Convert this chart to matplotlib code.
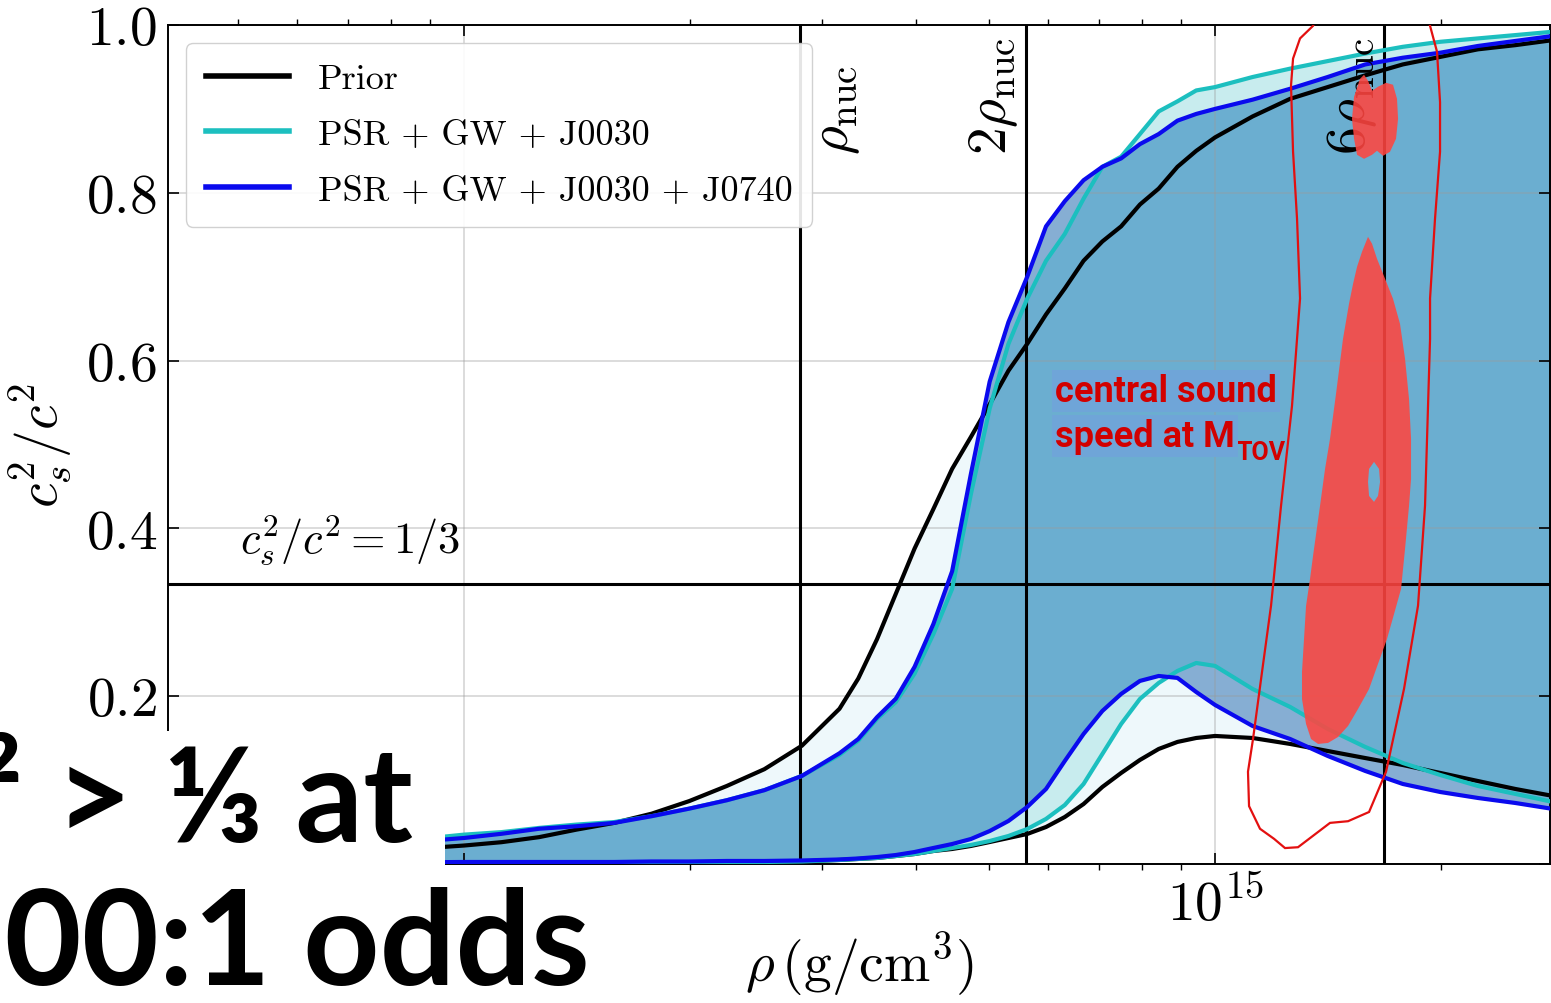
import numpy as np
import matplotlib
matplotlib.use('Agg')
import matplotlib.pyplot as plt
from matplotlib.patches import Rectangle, PathPatch, Polygon
from matplotlib.path import Path

plt.rcParams['font.family'] = 'cmr10'
plt.rcParams['mathtext.fontset'] = 'cm'
plt.rcParams['axes.formatter.use_mathtext'] = True
plt.rcParams['axes.unicode_minus'] = False

W, H = 1551, 1004
RHO_NUC = 2.8e14

# density grid (log10 g/cm^3) and 90% bounds of c_s^2/c^2
log_rho = [13.90, 14.00, 14.05, 14.10, 14.15, 14.20, 14.25, 14.30, 14.35, 14.40,
           14.45, 14.50, 14.525, 14.55, 14.575, 14.60, 14.625, 14.65, 14.675, 14.70,
           14.725, 14.75, 14.775, 14.80, 14.825, 14.85, 14.875, 14.90, 14.925, 14.95,
           14.975, 15.00, 15.05, 15.10, 15.15, 15.20, 15.25, 15.30, 15.35, 15.40, 15.45]

prior_hi = [0.016, 0.022, 0.026, 0.032, 0.041, 0.049, 0.060, 0.075, 0.093, 0.113,
            0.141, 0.185, 0.221, 0.268, 0.322, 0.376, 0.423, 0.471, 0.509, 0.548,
            0.588, 0.620, 0.655, 0.686, 0.719, 0.742, 0.760, 0.786, 0.805, 0.831,
            0.850, 0.866, 0.891, 0.912, 0.926, 0.940, 0.953, 0.962, 0.971, 0.976, 0.982]
prior_lo = [0.0006, 0.0006, 0.0006, 0.0006, 0.0006, 0.0012, 0.0012, 0.0012, 0.0018, 0.0024,
            0.0030, 0.0048, 0.0060, 0.0072, 0.0095, 0.0119, 0.0155, 0.0179, 0.0215, 0.0262,
            0.0310, 0.0358, 0.0441, 0.0560, 0.0715, 0.0918, 0.1085, 0.1240, 0.1371, 0.1455,
            0.1502, 0.1526, 0.1502, 0.1431, 0.1347, 0.1263, 0.1180, 0.1085, 0.0989, 0.0894, 0.0811]

j0030_hi = [0.026, 0.035, 0.038, 0.043, 0.047, 0.050, 0.057, 0.066, 0.076, 0.088,
            0.105, 0.130, 0.147, 0.173, 0.193, 0.227, 0.274, 0.328, 0.441, 0.543,
            0.620, 0.674, 0.719, 0.751, 0.793, 0.831, 0.843, 0.870, 0.897, 0.909,
            0.922, 0.926, 0.938, 0.948, 0.957, 0.966, 0.974, 0.980, 0.984, 0.988, 0.992]
j0030_lo = [0.0012, 0.0012, 0.0012, 0.0012, 0.0012, 0.0012, 0.0012, 0.0018, 0.0018, 0.0024,
            0.0030, 0.0048, 0.0060, 0.0072, 0.0095, 0.0119, 0.0155, 0.0191, 0.0227, 0.0274,
            0.0334, 0.0417, 0.0537, 0.0703, 0.0954, 0.1311, 0.1669, 0.1967, 0.2158, 0.2301,
            0.2396, 0.2361, 0.2086, 0.1872, 0.1610, 0.1395, 0.1204, 0.1061, 0.0930, 0.0835, 0.0739]

j0740_hi = [0.024, 0.031, 0.036, 0.042, 0.045, 0.049, 0.057, 0.066, 0.076, 0.088,
            0.105, 0.132, 0.149, 0.175, 0.197, 0.235, 0.286, 0.349, 0.465, 0.575,
            0.646, 0.700, 0.760, 0.790, 0.815, 0.831, 0.841, 0.858, 0.870, 0.886,
            0.894, 0.900, 0.911, 0.924, 0.938, 0.953, 0.961, 0.967, 0.975, 0.981, 0.987]
j0740_lo = [0.0018, 0.0024, 0.0024, 0.0024, 0.0024, 0.0024, 0.0030, 0.0030, 0.0036, 0.0036,
            0.0042, 0.0054, 0.0066, 0.0083, 0.0107, 0.0143, 0.0191, 0.0238, 0.0298, 0.0393,
            0.0513, 0.0680, 0.0894, 0.1228, 0.1550, 0.1824, 0.2027, 0.2182, 0.2241, 0.2218,
            0.2050, 0.1896, 0.1645, 0.1490, 0.1288, 0.1109, 0.0954, 0.0858, 0.0787, 0.0727, 0.0656]

# central sound speed at M_TOV: 90% contour, and filled 50% regions
tov_contour_logrho = [15.1425, 15.1305, 15.1132, 15.1039, 15.1012, 15.1039, 15.1092, 15.1132,
                      15.1092, 15.1025, 15.0879, 15.0746, 15.0626, 15.0506, 15.0439, 15.0453,
                      15.0599, 15.0786, 15.0932, 15.1105, 15.1252, 15.1531, 15.1771, 15.2051,
                      15.2277, 15.2517, 15.2703, 15.2796, 15.2863, 15.2863, 15.2929, 15.2996,
                      15.2996, 15.2956, 15.2863, 15.2756, 15.2091]
tov_contour_cs2 = [1.025, 0.999, 0.984, 0.960, 0.928, 0.849, 0.769, 0.674,
                   0.626, 0.546, 0.427, 0.308, 0.229, 0.149, 0.110, 0.069,
                   0.042, 0.030, 0.019, 0.020, 0.030, 0.049, 0.051, 0.062,
                   0.110, 0.209, 0.308, 0.427, 0.626, 0.674, 0.769, 0.849,
                   0.908, 0.968, 0.999, 1.025, 1.049]

tov_main_logrho = [15.1957, 15.2037, 15.2091, 15.2157, 15.2264, 15.2370, 15.2463, 15.2530,
                   15.2583, 15.2610, 15.2610, 15.2583, 15.2530, 15.2477, 15.2384, 15.2290,
                   15.2170, 15.2051, 15.1904, 15.1771, 15.1638, 15.1505, 15.1372, 15.1278,
                   15.1212, 15.1158, 15.1158, 15.1185, 15.1212, 15.1265, 15.1305, 15.1398,
                   15.1465, 15.1531, 15.1611, 15.1704, 15.1784, 15.1838, 15.1891]
tov_main_cs2 = [0.7297, 0.7475, 0.7392, 0.7213, 0.6975, 0.6736, 0.6438, 0.6021,
                0.5544, 0.5067, 0.4590, 0.4268, 0.3756, 0.3279, 0.2981, 0.2683,
                0.2385, 0.2086, 0.1848, 0.1645, 0.1514, 0.1443, 0.1431, 0.1490,
                0.1669, 0.1967, 0.2289, 0.2683, 0.3076, 0.3398, 0.3672, 0.4268,
                0.4709, 0.5067, 0.5604, 0.6259, 0.6677, 0.6915, 0.7118]
tov_hole_logrho = [15.2117, 15.2184, 15.2197, 15.2170, 15.2117, 15.2051, 15.2037, 15.2051]
tov_hole_cs2 = [0.4793, 0.4709, 0.4554, 0.4387, 0.4316, 0.4387, 0.4554, 0.4709]

tov_top_logrho = [15.1931, 15.1984, 15.2037, 15.2091, 15.2170, 15.2277, 15.2370, 15.2423,
                  15.2437, 15.2410, 15.2330, 15.2237, 15.2157, 15.2091, 15.1984, 15.1891,
                  15.1851, 15.1824, 15.1851]
tov_top_cs2 = [0.9359, 0.9407, 0.9335, 0.9216, 0.9264, 0.9311, 0.9288, 0.9121,
               0.8882, 0.8644, 0.8489, 0.8441, 0.8501, 0.8453, 0.8405, 0.8453,
               0.8644, 0.8882, 0.9145]

rho = 10 ** np.array(log_rho)
p_lo, p_hi = np.array(prior_lo), np.array(prior_hi)
a_lo, a_hi = np.array(j0030_lo), np.array(j0030_hi)
b_lo, b_hi = np.array(j0740_lo), np.array(j0740_hi)

fig = plt.figure(figsize=(W / 100, H / 100), dpi=100)
ax = fig.add_axes([168 / W, (H - 865) / H, (1550 - 168) / W, (865 - 26) / H])
ax.set_xscale('log')

# bands: prior, each posterior alone, then where both posteriors overlap
ax.fill_between(rho, p_lo, p_hi, color='#eef8fb', lw=0, zorder=1)
ax.fill_between(rho, a_lo, a_hi, color='#c8ecee', lw=0, zorder=1)
ax.fill_between(rho, b_lo, b_hi, color='#86aed3', lw=0, zorder=1)
both_lo = np.maximum(a_lo, b_lo)
both_hi = np.minimum(a_hi, b_hi)
ax.fill_between(rho, both_lo, both_hi, where=both_hi > both_lo, interpolate=True,
                color='#6baed0', lw=0, zorder=1)

ax.plot(rho, p_hi, color='k', lw=3, label='Prior', zorder=3)
ax.plot(rho, p_lo, color='k', lw=3, zorder=3)
ax.plot(rho, a_hi, color='#1cbfbf', lw=3, label='PSR + GW + J0030', zorder=3)
ax.plot(rho, a_lo, color='#1cbfbf', lw=3, zorder=3)
ax.plot(rho, b_hi, color='#0a0aee', lw=3, label='PSR + GW + J0030 + J0740', zorder=3)
ax.plot(rho, b_lo, color='#0a0aee', lw=3, zorder=3)

# reference densities and the conformal limit
for mult in [1, 2, 6]:
    ax.axvline(mult * RHO_NUC, color='k', lw=2.2, zorder=2)
ax.axhline(1 / 3, color='k', lw=2.2, zorder=2)

lab_kw = dict(rotation=90, fontsize=40, va='bottom', textcoords='offset points')
ax.annotate(r'$\rho_{\rm nuc}$', xy=(RHO_NUC, 0.846), xytext=(9, 0), ha='left', **lab_kw)
ax.annotate(r'$2\rho_{\rm nuc}$', xy=(2 * RHO_NUC, 0.846), xytext=(-4, 0), ha='right', **lab_kw)
ax.annotate(r'$6\rho_{\rm nuc}$', xy=(6 * RHO_NUC, 0.846), xytext=(-4, 0), ha='right', **lab_kw)
ax.text(5.03e13, 0.355, r'$c_s^2/c^2 = 1/3$', fontsize=32, va='bottom')

# M_TOV posterior
red = (1.0, 0.27, 0.25)
ax.add_patch(Polygon(np.column_stack([10 ** np.array(tov_contour_logrho), tov_contour_cs2]),
                     closed=True, fill=False, ec='#e31010', lw=1.6, zorder=4))
outer = np.column_stack([10 ** np.array(tov_main_logrho), tov_main_cs2])
hole = np.column_stack([10 ** np.array(tov_hole_logrho), tov_hole_cs2])[::-1]
verts = np.concatenate([outer, outer[:1], hole, hole[:1]])
codes = ([Path.MOVETO] + [Path.LINETO] * (len(outer) - 1) + [Path.CLOSEPOLY]
         + [Path.MOVETO] + [Path.LINETO] * (len(hole) - 1) + [Path.CLOSEPOLY])
ax.add_patch(PathPatch(Path(verts, codes), fc=red, ec='none', alpha=0.88, zorder=4))
ax.add_patch(Polygon(np.column_stack([10 ** np.array(tov_top_logrho), tov_top_cs2]),
                     closed=True, fc=red, ec='none', alpha=0.88, zorder=4))

ax.set_xlim(10 ** 13.606, 10 ** 15.446)
ax.set_ylim(0, 1)
ax.set_yticks([0, 0.2, 0.4, 0.6, 0.8, 1.0])
ax.grid(True, which='major', color='#9a9a9a', alpha=0.35, lw=1.4)
ax.set_axisbelow('line')
ax.tick_params(which='major', direction='in', length=8, width=1.2, top=True, right=True,
               labelsize=40, pad=8)
ax.tick_params(which='minor', direction='out', length=4, width=1, top=True)
for s in ax.spines.values():
    s.set_linewidth(1.4)

ax.set_xlabel(r'$\rho\,(\mathrm{g/cm^3})$', fontsize=40, labelpad=0)
ax.set_ylabel(r'$c_s^2/c^2$', fontsize=40, labelpad=8)

leg = ax.legend(loc='upper left', fontsize=26, handlelength=2.3, handletextpad=0.8,
                labelspacing=0.65, borderpad=0.55, framealpha=0.9, edgecolor='#cccccc')
for h in leg.get_lines():
    h.set_linewidth(4)

# annotation box for the red region
box_kw = dict(boxstyle='square,pad=0.08', fc='#6fa5d8', ec='none')
fig.text(1055 / W, 1 - 402 / H, 'central sound', color='#d20000', fontsize=26,
         family='Roboto', weight='bold', va='baseline', bbox=box_kw, zorder=6)
t2 = fig.text(1055 / W, 1 - 447 / H, 'speed at M', color='#d20000', fontsize=26,
              family='Roboto', weight='bold', va='baseline', bbox=box_kw, zorder=6)
ax.annotate('TOV', xy=(1, 0), xycoords=t2, xytext=(1, -7), textcoords='offset points',
            color='#d20000', fontsize=18, family='Roboto', weight='bold',
            va='bottom', ha='left', zorder=6, annotation_clip=False)

# headline over the lower-left corner
fig.patches.append(Rectangle((0, 0), 445 / W, (H - 732) / H, transform=fig.transFigure,
                             fc='white', ec='none', zorder=8))
fig.patches.append(Rectangle((0, 0), 600 / W, (H - 868) / H, transform=fig.transFigure,
                             fc='white', ec='none', zorder=8))
head_kw = dict(family=['Lato', 'DejaVu Sans'], weight='bold', fontsize=96,
               ha='right', va='baseline', zorder=9)
fig.text(413 / W, 1 - 842 / H, 'cₛ² > ⅓ at', **head_kw)
fig.text(590 / W, 1 - 985 / H, '100:1 odds', **head_kw)

fig.savefig('out.png', dpi=100)
